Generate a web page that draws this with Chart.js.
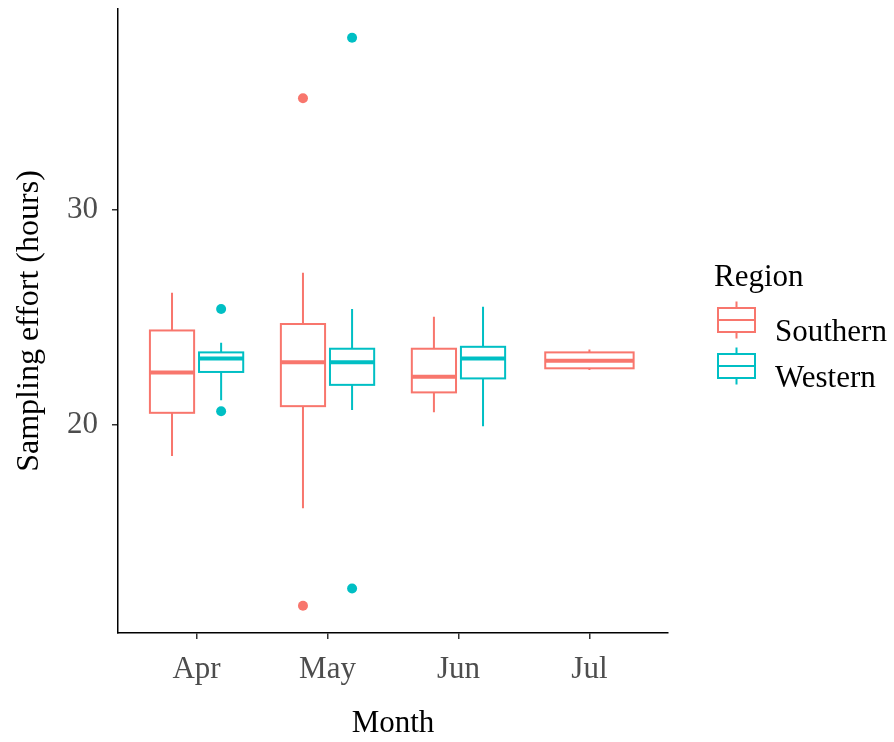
<!DOCTYPE html>
<html>
<head>
<meta charset="utf-8">
<script src="https://cdn.jsdelivr.net/npm/chart.js@4.4.1/dist/chart.umd.min.js"></script>
<style>
  html, body { margin:0; padding:0; background:#fff; }
  #wrap { width:894px; height:742px; }
</style>
</head>
<body>
<div id="wrap"><canvas id="chart" width="894" height="742"></canvas></div>
<script>
// Month categories and tick labels
const months = ['Apr', 'May', 'Jun', 'Jul'];
const yTicks = [20, 30];
const regions = ['Southern', 'Western'];
const regionColors = ['#F8766D', '#00BFC4'];

// Box statistics per month (hours); null = no data for that month
const southernMin    = [18.56, 16.13, 20.60, 22.56];
const southernQ1     = [20.57, 20.88, 21.52, 22.64];
const southernMedian = [22.45, 22.92, 22.25, 22.99];
const southernQ3     = [24.40, 24.70, 23.55, 23.38];
const southernMax    = [26.15, 27.08, 25.04, 23.52];
const southernOutliers = [[], [35.20, 11.60], [], []];

const westernMin    = [21.16, 20.70, 19.95, null];
const westernQ1     = [22.47, 21.87, 22.17, null];
const westernMedian = [23.10, 22.92, 23.10, null];
const westernQ3     = [23.38, 23.55, 23.64, null];
const westernMax    = [23.83, 25.40, 25.50, null];
const westernOutliers = [[25.40, 20.64], [38.01, 12.40], [], []];

const series = [
    { min:southernMin, q1:southernQ1, med:southernMedian, q3:southernQ3, max:southernMax, out:southernOutliers },
    { min:westernMin,  q1:westernQ1,  med:westernMedian,  q3:westernQ3,  max:westernMax,  out:westernOutliers }
];

const FONT = "'Liberation Serif', 'Times New Roman', serif";

// dodge positions (ggplot position_dodge2, width .75, padding .1)
function slot(si, mi) {
    const present = series.filter(s => s.med[mi] != null).length;
    if (present < 2) return { x: mi + 1, half: 0.3375 };
    return { x: mi + 1 + (si === 0 ? -0.1875 : 0.1875), half: 0.16875 };
}

const outlierSets = series.map((s, si) => {
    const pts = [];
    s.out.forEach((vals, mi) => vals.forEach(v => pts.push({ x: slot(si, mi).x, y: v })));
    return {
        type: 'scatter', label: regions[si], data: pts,
        backgroundColor: regionColors[si], borderColor: regionColors[si],
        pointRadius: 5, pointHoverRadius: 5, borderWidth: 0
    };
});

const boxPlugin = {
    id: 'boxes',
    beforeDatasetsDraw(chart) {
        const { ctx, scales: { x, y } } = chart;
        ctx.save();
        series.forEach((s, si) => {
            s.med.forEach((m, mi) => {
                if (m == null) return;
                const sl = slot(si, mi);
                const cx = x.getPixelForValue(sl.x);
                const l = x.getPixelForValue(sl.x - sl.half), r = x.getPixelForValue(sl.x + sl.half);
                const yq1 = y.getPixelForValue(s.q1[mi]), yq3 = y.getPixelForValue(s.q3[mi]);
                ctx.strokeStyle = regionColors[si];
                ctx.lineWidth = 2;
                ctx.beginPath();
                ctx.moveTo(cx, y.getPixelForValue(s.max[mi])); ctx.lineTo(cx, yq3);
                ctx.moveTo(cx, yq1); ctx.lineTo(cx, y.getPixelForValue(s.min[mi]));
                ctx.stroke();
                ctx.fillStyle = '#fff';
                ctx.fillRect(l, yq3, r - l, yq1 - yq3);
                ctx.strokeRect(l, yq3, r - l, yq1 - yq3);
                ctx.lineWidth = 4;
                const ym = y.getPixelForValue(m);
                ctx.beginPath(); ctx.moveTo(l, ym); ctx.lineTo(r, ym); ctx.stroke();
            });
        });
        ctx.restore();
    },
    afterDraw(chart) {
        // legend (ggplot style box glyphs)
        const { ctx } = chart;
        ctx.save();
        ctx.fillStyle = '#000';
        ctx.font = `31px ${FONT}`;
        ctx.textBaseline = 'alphabetic';
        ctx.fillText('Region', 714, 286);
        regions.forEach((name, i) => {
            const cy = 320 + i * 46;
            const l = 718, r = 755, cx = (l + r) / 2;
            ctx.strokeStyle = regionColors[i];
            ctx.lineWidth = 2;
            ctx.beginPath();
            ctx.moveTo(cx, cy - 18.5); ctx.lineTo(cx, cy - 12);
            ctx.moveTo(cx, cy + 12); ctx.lineTo(cx, cy + 18.5);
            ctx.moveTo(l, cy); ctx.lineTo(r, cy);
            ctx.stroke();
            ctx.strokeRect(l, cy - 12, r - l, 24);
            ctx.fillStyle = '#000';
            ctx.fillText(name, 775, cy + 21);
        });
        ctx.restore();
    }
};

new Chart(document.getElementById('chart'), {
    type: 'scatter',
    data: { datasets: outlierSets },
    plugins: [boxPlugin],
    options: {
        responsive: false, animation: false,
        layout: { padding: { left: 0, right: 226, top: 9, bottom: 0 } },
        plugins: { legend: { display: false }, tooltip: { enabled: false } },
        scales: {
            x: {
                type: 'linear', min: 0.4, max: 4.6,
                afterBuildTicks: s => { s.ticks = months.map((_, i) => ({ value: i + 1 })); },
                afterFit: s => { s.height = 109; s.paddingLeft = 0; s.paddingRight = 0; },
                grid: { drawOnChartArea: false, drawTicks: true, tickLength: 6, color: '#333', lineWidth: 1.5 },
                border: { display: true, color: '#000', width: 1.5 },
                ticks: { color: '#4d4d4d', font: { family: FONT, size: 31 }, padding: 12,
                         callback: v => months[v - 1] },
                title: { display: true, text: 'Month', color: '#000', font: { family: FONT, size: 31 },
                         padding: { top: 0, bottom: 0 } }
            },
            y: {
                type: 'linear', min: 10.33, max: 39.35,
                afterBuildTicks: s => { s.ticks = yTicks.map(v => ({ value: v })); },
                afterFit: s => { s.width = 118; s.paddingTop = 0; s.paddingBottom = 0; },
                grid: { drawOnChartArea: false, drawTicks: true, tickLength: 6, color: '#333', lineWidth: 1.5 },
                border: { display: true, color: '#000', width: 1.5 },
                ticks: { color: '#4d4d4d', font: { family: FONT, size: 31 }, padding: 14 },
                title: { display: true, text: 'Sampling effort (hours)', color: '#000',
                         font: { family: FONT, size: 32 }, padding: { top: 10, bottom: 0 } }
            }
        }
    }
});
</script>
</body>
</html>
